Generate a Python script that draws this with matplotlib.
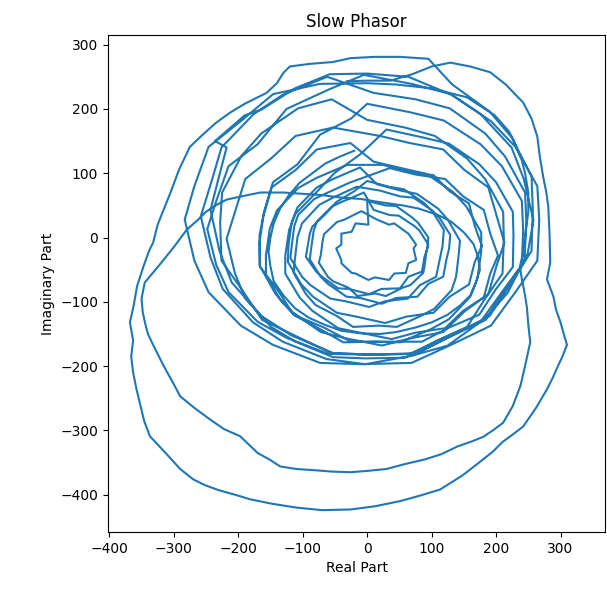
import matplotlib
matplotlib.use("Agg")
import matplotlib.pyplot as plt
import numpy as np

# phasor trace, one list of (real, imag) per turn of the spiral
start_dash = [(-31, 243), (0, 244), (36, 244), (70, 254), (100, 266)]
outer_turn = [(129, 272), (160, 266), (191, 257), (215, 238), (242, 210), (255, 185), (264, 157),
              (268, 125), (273, 95), (278, 70), (281, 48), (283, 5), (284, -39), (279, -65), (289, -92),
              (293, -112), (300, -132), (305, -150), (310, -167), (303, -185), (296, -200), (288, -218),
              (279, -236), (262, -265), (242, -294), (225, -307), (210, -318), (195, -333), (180, -345),
              (148, -370), (113, -392), (80, -402), (51, -410), (12, -418), (-26, -423), (-70, -424),
              (-110, -420), (-148, -414), (-182, -407), (-205, -400), (-230, -393), (-252, -385),
              (-270, -376), (-290, -360), (-310, -338), (-325, -322), (-337, -309), (-346, -285),
              (-352, -260), (-358, -235), (-363, -210), (-366, -185), (-363, -160), (-368, -132),
              (-362, -105), (-357, -76), (-347, -45), (-338, -20), (-332, -8), (-325, 20), (-315, 45),
              (-305, 70), (-292, 105), (-275, 141), (-255, 160), (-235, 178), (-213, 194), (-190, 208),
              (-170, 218), (-156, 225), (-140, 240), (-130, 256), (-120, 266), (-90, 270), (-53, 273),
              (-26, 279), (12, 281), (51, 281), (95, 278)]
turn_12 = [(132, 238), (190, 196), (224, 156), (255, 95), (257, 43), (255, -21), (224, -70), (190, -122),
           (132, -152), (78, -180), (7, -182), (-52, -180), (-118, -152), (-164, -122), (-210, -70),
           (-229, -21), (-243, 43), (-229, 98), (-218, 140), (-236, 150), (-190, 190), (-164, 199),
           (-112, 232), (-58, 254)]
turn_10 = [(0, 255), (64, 250), (131, 222), (176, 192), (224, 140), (243, 91), (258, 27), (249, -25),
           (218, -86), (183, -126), (125, -168), (69, -184), (-3, -197), (-63, -189), (-131, -162),
           (-177, -132), (-224, -80), (-243, -31), (-258, 33), (-240, 92), (-226, 140), (-176, 192),
           (-131, 222), (-62, 250)]
turn_09 = [(10, 225), (75, 215), (128, 201), (183, 162), (214, 126), (245, 70), (247, 24), (244, -37),
           (214, -80), (184, -128), (127, -155), (75, -181), (8, -182), (-55, -180), (-107, -155),
           (-163, -128), (-195, -80), (-226, -36), (-228, 24), (-225, 70), (-195, 127), (-164, 162),
           (-107, 201), (-55, 215)]
turn_08 = [(0, 183), (59, 171), (105, 158), (155, 123), (183, 91), (211, 40), (212, -2), (210, -56),
           (183, -95), (155, -139), (105, -162), (59, -187), (-3, -188), (-53, -186), (-111, -162),
           (-149, -139), (-189, -95), (-205, -56), (-218, -2), (-205, 40), (-189, 91), (-149, 123),
           (-111, 158), (-53, 171)]
turn_07 = [(20, 158), (66, 147), (118, 137), (151, 105), (188, 78), (201, 33), (213, -8), (201, -43),
           (188, -88), (151, -115), (118, -147), (66, -157), (23, -168), (-32, -157), (-72, -147),
           (-117, -115), (-142, -88), (-167, -43), (-167, -8), (-161, 33), (-148, 78), (-111, 105),
           (-78, 137), (-26, 147)]
turn_06 = [(10, 118), (57, 107), (92, 99), (133, 71), (154, 48), (177, 8), (177, -22), (171, -64),
           (160, -92), (127, -127), (98, -143), (51, -163), (13, -162), (-37, -163), (-72, -143),
           (-113, -121), (-134, -98), (-157, -58), (-157, -28), (-151, 14), (-140, 42), (-107, 77),
           (-78, 93), (-31, 113)]
turn_05 = [(25, 113), (61, 103), (103, 97), (128, 72), (158, 53), (167, 18), (178, -13), (167, -38),
           (158, -73), (128, -92), (103, -117), (61, -123), (28, -133), (-17, -123), (-47, -117),
           (-84, -92), (-102, -73), (-123, -38), (-122, -13), (-117, 24), (-108, 47), (-78, 78),
           (-53, 91), (-11, 109)]
turn_04 = [(15, 83), (52, 73), (77, 68), (110, 45), (125, 28), (144, -5), (142, -27), (138, -61),
           (131, -82), (104, -111), (83, -122), (46, -139), (18, -137), (-22, -139), (-47, -122),
           (-80, -105), (-95, -88), (-114, -55), (-112, -33), (-108, 1), (-101, 22), (-74, 51),
           (-53, 62), (-16, 79)]
turn_03 = [(20, 73), (51, 64), (72, 62), (101, 42), (112, 31), (129, 4), (127, -18), (123, -34),
           (118, -61), (95, -72), (78, -92), (45, -94), (23, -103), (-11, -94), (-32, -92), (-61, -72),
           (-72, -61), (-89, -34), (-87, -18), (-83, 10), (-78, 25), (-55, 48), (-38, 56), (-5, 70)]
turn_02 = [(10, 43), (35, 35), (49, 34), (73, 18), (81, 11), (95, -11), (92, -22), (89, -45), (87, -55),
           (67, -74), (55, -78), (29, -91), (13, -87), (-15, -91), (-29, -78), (-53, -68), (-61, -61),
           (-75, -39), (-72, -28), (-69, -5), (-67, 5), (-47, 24), (-35, 28), (-9, 41)]
turn_01 = [(15, 28), (34, 20), (42, 22), (60, 9), (64, 6), (76, -11), (72, -17), (76, -35), (64, -40),
           (60, -55), (42, -56), (34, -66), (12, -62), (2, -66), (-18, -56), (-24, -55), (-40, -40),
           (-40, -35), (-48, -17), (-40, -11), (-40, 6), (-24, 9), (-18, 22), (2, 20)]
turn_02b = [(0, 57), (28, 50), (45, 49), (70, 31), (79, 23), (95, 0), (93, -18), (89, -30), (85, -53),
            (64, -61), (51, -79), (22, -80), (3, -88), (-28, -80), (-45, -79), (-70, -61), (-79, -53),
            (-95, -30), (-93, -18), (-89, 6), (-85, 17), (-64, 37), (-48, 55), (-20, 72)]
turn_03b = [(0, 88), (34, 79), (57, 75), (88, 54), (101, 41), (119, 12), (117, -13), (113, -32),
            (107, -61), (82, -74), (63, -95), (28, -99), (3, -108), (-34, -99), (-57, -95), (-88, -74),
            (-101, -61), (-119, -32), (-117, -13), (-113, 18), (-107, 35), (-82, 60), (-63, 69), (-28, 85)]
turn_05b = [(35, 108), (75, 98), (121, 91), (149, 64), (181, 43), (191, 6), (203, -28), (191, -56),
            (181, -93), (149, -114), (121, -141), (75, -148), (38, -158), (-11, -148), (-45, -141),
            (-85, -114), (-105, -93), (-127, -56), (-127, -28), (-121, 12), (-111, 37), (-79, 70),
            (-51, 100), (-10, 130)]
turn_07b = [(30, 168), (85, 156), (127, 146), (174, 114), (200, 86), (226, 40), (227, 3), (226, -46),
            (200, -80), (174, -120), (127, -140), (85, -162), (27, -162), (-25, -162), (-67, -140),
            (-114, -120), (-140, -80), (-166, -46), (-167, 3), (-160, 40), (-146, 86), (-108, 114),
            (-73, 160), (-25, 185)]
turn_wide = [(0, 208), (66, 195), (119, 182), (176, 145), (209, 111), (240, 57), (242, 13), (240, -43),
             (209, -85), (176, -131), (119, -156), (66, -181), (-3, -182), (-60, -181), (-125, -156),
             (-170, -131), (-215, -85), (-234, -43), (-248, 13), (-234, 57), (-215, 111), (-170, 145),
             (-125, 200), (-60, 230)]
turn_11 = [(-5, 253), (69, 239), (130, 223), (192, 181), (230, 141), (264, 80), (267, 28), (264, -36),
           (230, -85), (192, -137), (130, -167), (69, -195), (-8, -197), (-73, -195), (-146, -167),
           (-196, -137), (-246, -85), (-268, -36), (-283, 28), (-268, 80), (-246, 141), (-196, 181),
           (-146, 223), (-73, 239)]
second_turn = [(0, 240), (45, 238), (100, 232), (155, 218), (198, 190), (220, 165), (228, 150),
               (240, 120), (245, 100), (250, 70), (250, 40), (246, 10), (243, -20), (237, -45),
               (240, -65), (245, -90), (248, -110), (250, -135), (253, -163), (246, -195), (238, -230),
               (226, -262), (211, -288), (195, -300), (180, -310), (160, -318), (140, -325), (115, -337),
               (90, -345), (60, -352), (30, -360), (0, -363), (-26, -365), (-55, -364), (-80, -362),
               (-110, -360), (-135, -356), (-152, -345), (-170, -335), (-197, -309), (-222, -298),
               (-245, -282), (-268, -265), (-290, -247), (-300, -228), (-310, -210), (-318, -195),
               (-326, -179), (-333, -165), (-340, -150), (-344, -135), (-348, -117), (-350, -95),
               (-345, -70), (-320, -40), (-300, -15), (-280, 12), (-262, 28), (-250, 40), (-235, 50),
               (-218, 59), (-195, 64), (-166, 70), (-130, 70), (-100, 68), (-70, 66), (-40, 62), (-10, 60),
               (20, 55), (55, 50), (80, 45), (110, 35), (130, 25), (150, 8), (165, -10), (172, -30),
               (175, -50), (168, -72), (160, -90), (145, -105), (125, -120), (100, -132), (75, -140),
               (45, -147), (20, -150), (-10, -149), (-40, -145), (-65, -136), (-90, -125), (-112, -110),
               (-130, -90), (-145, -68), (-150, -45), (-153, -22), (-150, 0), (-145, 22), (-135, 45),
               (-122, 65), (-105, 85), (-85, 100), (-65, 115), (-42, 126), (-20, 135)]

ORDER = [start_dash, outer_turn, turn_12, turn_10, turn_09, turn_08, turn_07, turn_06, turn_05,
         turn_04, turn_03, turn_02, turn_01, turn_02b, turn_03b, turn_05b, turn_07b, turn_wide,
         turn_11, second_turn]


def main() -> None:
    pts = np.array([p for turn in ORDER for p in turn], dtype=float)

    fig = plt.figure(figsize=(6.07, 5.91), dpi=100)
    ax = fig.add_axes([108 / 607, 59 / 591, 497 / 607, 497 / 591])
    ax.plot(pts[:, 0], pts[:, 1], color="#1f77b4", linewidth=1.5)

    ax.set_xlim(-402, 369)
    ax.set_ylim(-458, 315)
    ax.set_xticks(range(-400, 301, 100))
    ax.set_yticks(range(-400, 301, 100))
    ax.set_title("Slow Phasor")
    ax.set_xlabel("Real Part")
    ax.set_ylabel("Imaginary Part")

    fig.savefig("out.png", dpi=100)


if __name__ == "__main__":
    main()
